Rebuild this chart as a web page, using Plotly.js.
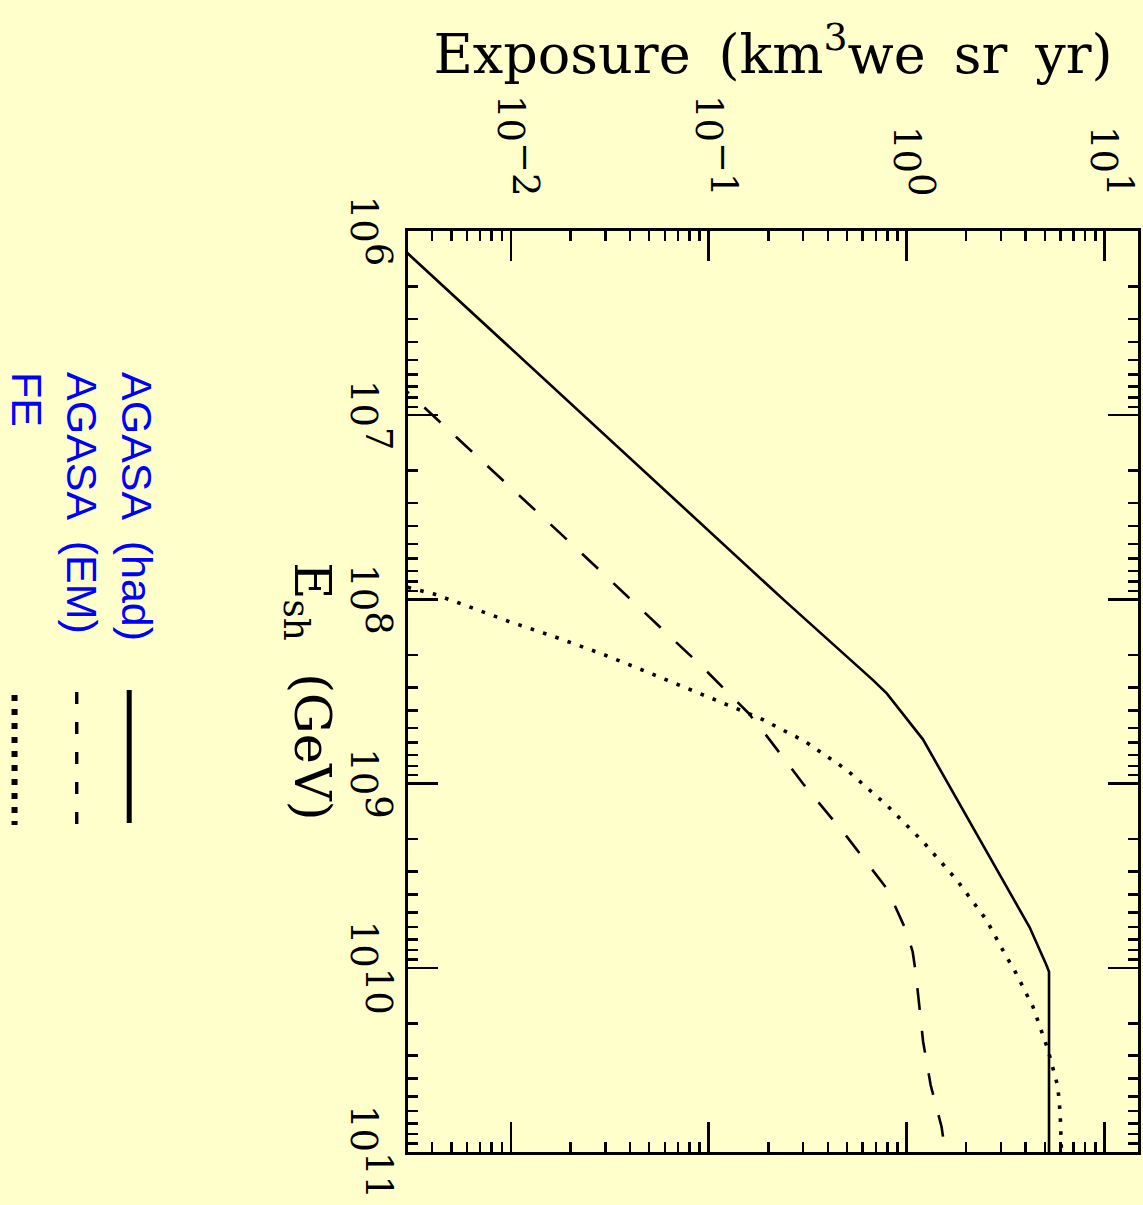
<!DOCTYPE html>
<html>
<head>
<meta charset="utf-8">
<script src="https://cdn.plot.ly/plotly-3.0.1.min.js"></script>
<style>
  html, body { margin: 0; padding: 0; overflow: hidden; background: #ffffcc; width: 1143px; height: 1205px; }
  /* The figure is laid out landscape and turned a quarter clockwise onto the portrait page */
  #chart { position: absolute; left: 0; top: 0; width: 1205px; height: 1143px;
           transform-origin: 0 0; transform: translate(1143px, 0) rotate(90deg); }
</style>
</head>
<body>
<div id="chart"></div>
<script>
// Shower energy E_sh (GeV) against exposure (km^3 we sr yr)

// AGASA, hadronic showers
const hadEnergy   = [1e6, 1e7, 1e8, 2.75e8, 3.24e8, 5.75e8, 2.63e9, 6.03e9, 9.6e9, 1.05e10, 1e11];
const hadExposure = [0.00227, 0.0232, 0.238, 0.679, 0.794, 1.21, 2.69, 4.19, 5.08, 5.25, 5.25];

// AGASA, electromagnetic showers
const emEnergy   = [6.31e6, 1.08e7, 4.95e7, 2.32e8, 4.15e8, 5.22e8, 1.02e9, 1.94e9, 3.75e9, 6.24e9, 8.18e9,
                    1.07e10, 1.88e10, 2.52e10, 4.33e10, 7.29e10, 1e11];
const emExposure = [0.00253, 0.00435, 0.0201, 0.0927, 0.159, 0.189, 0.304, 0.499, 0.800, 0.993, 1.074,
                    1.114, 1.178, 1.213, 1.324, 1.503, 1.57];

// Fluorescence (FE)
const feEnergy   = [7.94e7, 9.35e7, 1.04e8, 1.31e8, 1.59e8, 1.98e8, 2.52e8, 3.24e8, 4.42e8, 5.92e8, 8.43e8,
                    1.31e9, 2.07e9, 3.33e9, 5.50e9, 8.51e9, 1.03e10, 1.63e10, 2.79e10, 4.42e10, 6.17e10, 1e11];
const feExposure = [0.00224, 0.00409, 0.00538, 0.00962, 0.0165, 0.0290, 0.0508, 0.0891, 0.182, 0.308, 0.499,
                    0.794, 1.213, 1.791, 2.535, 3.16, 3.51, 4.36, 5.19, 5.82, 5.98, 6.07];

const seriesNames = ['AGASA (had)', 'AGASA (EM)', 'FE'];

// Axis ticks
const energyTickVals   = [1e6, 1e7, 1e8, 1e9, 1e10, 1e11];
const energyTickPowers = ['6', '7', '8', '9', '10', '11'];
const exposureTickVals   = [0.01, 0.1, 1, 10];
const exposureTickPowers = ['\u22122', '\u22121', '0', '1'];

const TICK_SIZE = 37;
// full-size, raised exponents
const powerLabel = p => '10<sup><span style="font-size:' + TICK_SIZE + 'px">' + p + '</span></sup>';

function logMinor(loPow, hiPow) {
  const v = [];
  for (let p = loPow; p < hiPow; p++) for (let d = 2; d <= 9; d++) v.push(d * Math.pow(10, p));
  return v;
}

const ink = '#000000';
const bg = '#ffffcc';
const legendBlue = '#0000ff';

const traces = [
  { x: hadEnergy, y: hadExposure, name: seriesNames[0], mode: 'lines',
    line: { color: ink, width: 2.6, dash: 'solid' } },
  { x: emEnergy, y: emExposure, name: seriesNames[1], mode: 'lines',
    line: { color: ink, width: 2.6, dash: '22px,21px' } },
  { x: feEnergy, y: feExposure, name: seriesNames[2], mode: 'lines',
    line: { color: ink, width: 3.6, dash: '3.6px,9.4px' } }
].map(t => Object.assign(t, { showlegend: false, hoverinfo: 'skip' }));

const axisCommon = {
  type: 'log',
  showgrid: false, zeroline: false,
  showline: true, linecolor: ink, linewidth: 3, mirror: 'ticks',
  ticks: 'inside', ticklen: 30, tickwidth: 2.5, tickcolor: ink,
  tickmode: 'array',
  tickfont: { family: 'DejaVu Serif', size: TICK_SIZE, color: ink }
};

// Hand-made key beneath the energy axis: label, then a line sample
const keyRows = [
  { y: -0.3712, lineY: -0.3819, x0: 0.4984, x1: 0.6428, width: 5,   dash: 'solid' },
  { y: -0.4466, lineY: -0.4538, x0: 0.5005, x1: 0.6450, width: 3.4, dash: '12px,18px' },
  { y: -0.5219, lineY: -0.5390, x0: 0.5038, x1: 0.6450, width: 6,   dash: '6px,8px' }
];

const layout = {
  width: 1205, height: 1143,
  margin: { l: 231, r: 53, t: 5, b: 408, pad: 0 },
  paper_bgcolor: bg, plot_bgcolor: bg,
  xaxis: Object.assign({}, axisCommon, {
    range: [6, 11],
    tickvals: energyTickVals,
    ticktext: energyTickPowers.map(powerLabel),
    ticklabelstandoff: 10,
    minor: { ticks: 'inside', ticklen: 10, tickwidth: 2.5, tickcolor: ink,
             tickmode: 'array', tickvals: logMinor(6, 11) },
    title: { text: 'E<sub>sh</sub>\u00a0 (GeV)',
             font: { family: 'DejaVu Serif', size: 51, color: ink }, standoff: 2 }
  }),
  yaxis: Object.assign({}, axisCommon, {
    range: [-2.52, 1.17],
    tickvals: exposureTickVals,
    ticktext: exposureTickPowers.map(powerLabel),
    ticklabelstandoff: 24,
    minor: { ticks: 'inside', ticklen: 10, tickwidth: 2.5, tickcolor: ink,
             tickmode: 'array', tickvals: logMinor(-3, 2) },
    title: { text: 'Exposure\u2009 (km<sup>3</sup>we\u2009 sr\u2009 yr)',
             font: { family: 'DejaVu Serif', size: 54, color: ink }, standoff: 5 }
  }),
  annotations: keyRows.map((r, i) => ({
    xref: 'paper', yref: 'paper', x: 0.1509, y: r.y,
    xanchor: 'left', yanchor: 'middle', showarrow: false,
    text: seriesNames[i].replace(' ', '\u2009 '),
    font: { family: 'Liberation Sans', size: 43, color: legendBlue }
  })),
  shapes: keyRows.map(r => ({
    type: 'line', xref: 'paper', yref: 'paper',
    x0: r.x0, x1: r.x1, y0: r.lineY, y1: r.lineY,
    line: { color: ink, width: r.width, dash: r.dash }
  }))
};

Plotly.newPlot('chart', traces, layout, { staticPlot: true, displayModeBar: false });
</script>
</body>
</html>
